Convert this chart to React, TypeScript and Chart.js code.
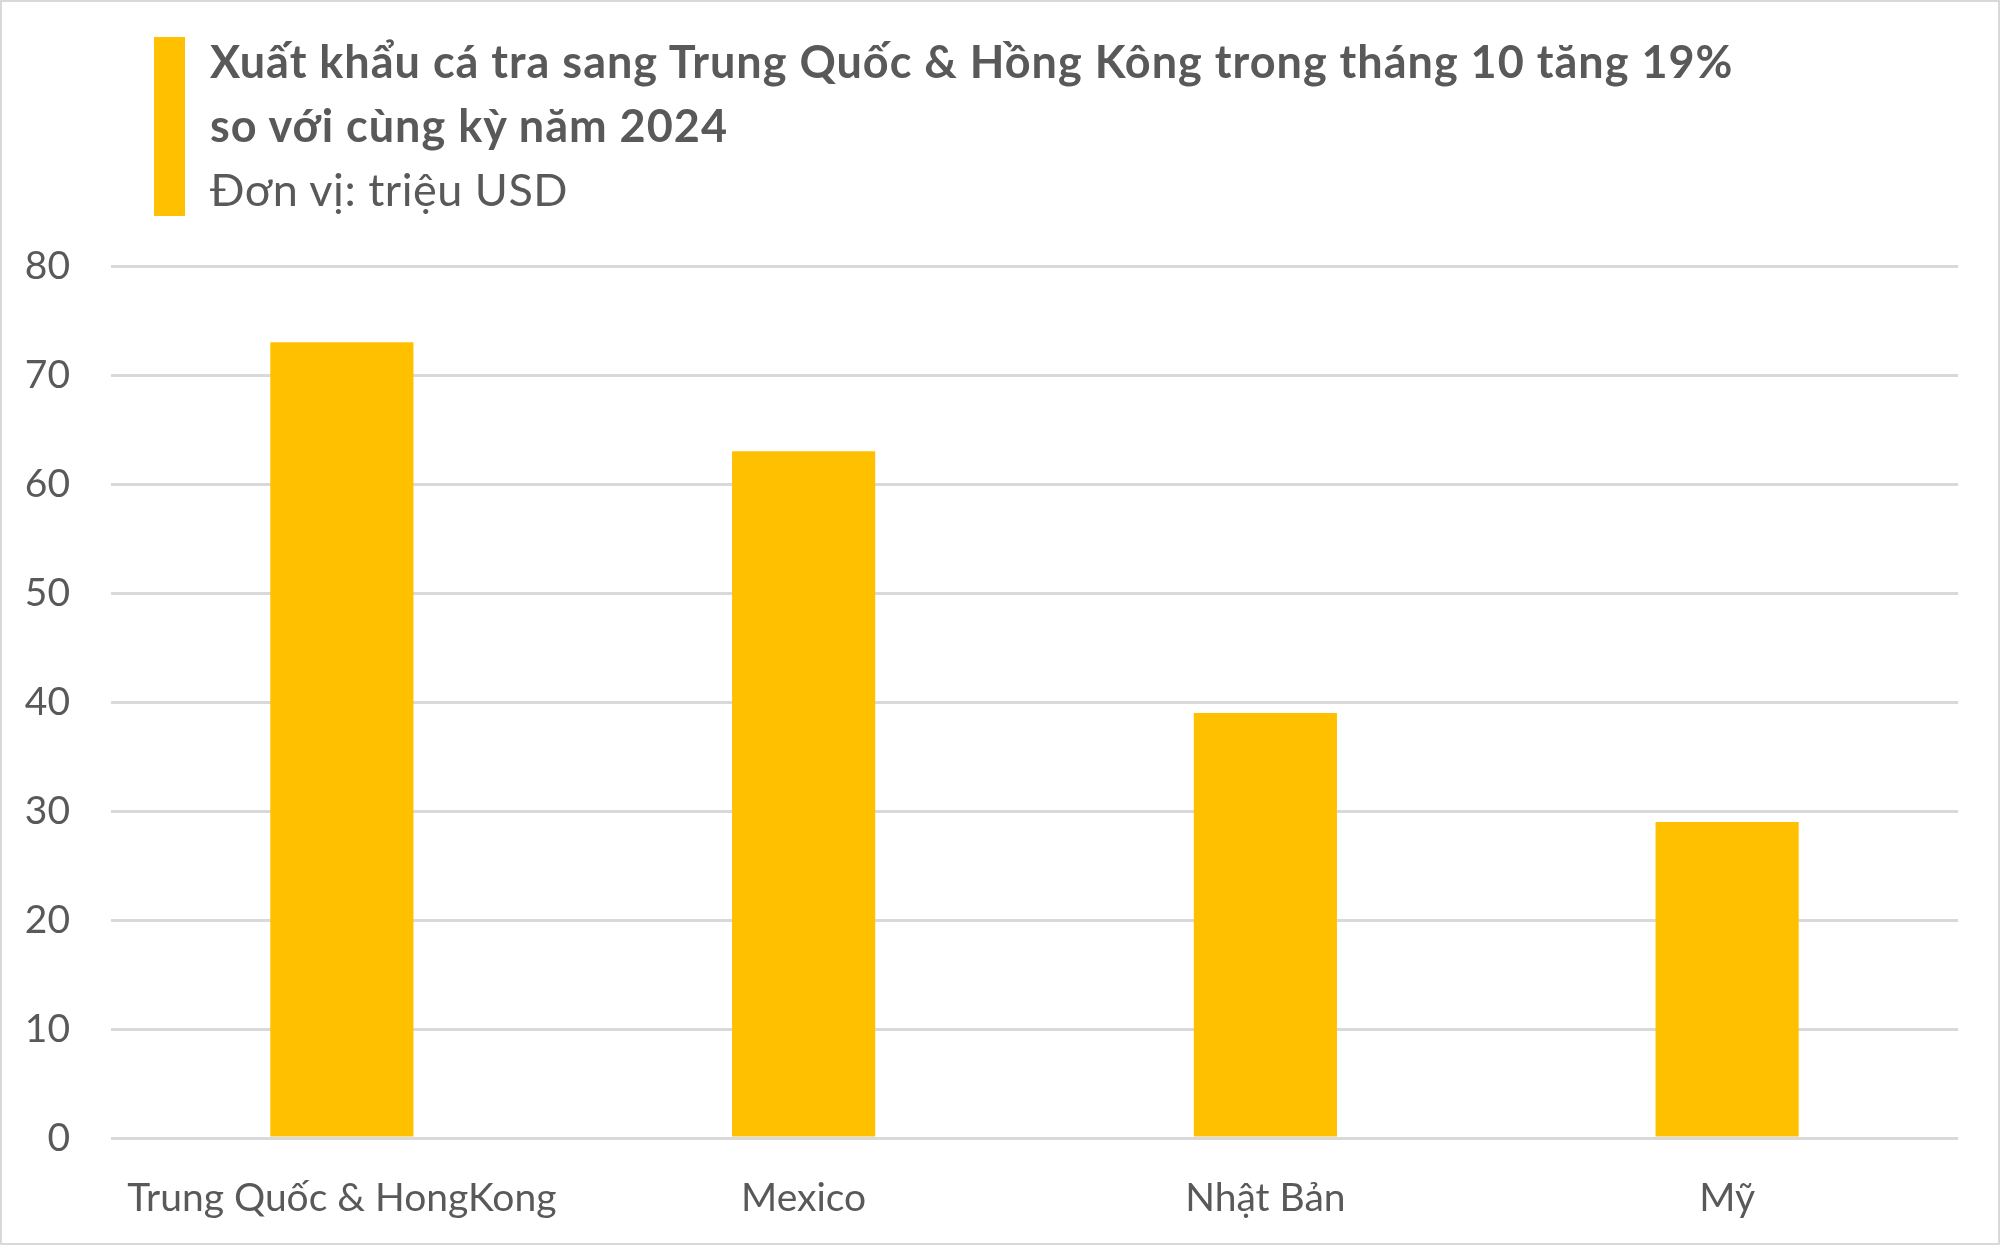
import React, { useEffect, useRef } from 'react';
import { Chart, registerables } from 'chart.js';

Chart.register(...registerables);

const categories = ['Trung Quốc & HongKong', 'Mexico', 'Nhật Bản', 'Mỹ'];
const exportValues = [73, 63, 39, 29];
const titleLines = [
  'Xuất khẩu cá tra sang Trung Quốc & Hồng Kông trong tháng 10 tăng 19%',
  'so với cùng kỳ năm 2024',
];
const unitLabel = 'Đơn vị: triệu USD';

const FONT = 'Lato, "Open Sans", "Noto Sans", sans-serif';
const TEXT = '#595959';

export default function App() {
  const chartRef = useRef<HTMLCanvasElement>(null);

  useEffect(() => {
    document.body.style.margin = '0';
    if (!chartRef.current) return;

    const chartInstance = new Chart(chartRef.current, {
      type: 'bar',
      data: {
        labels: categories,
        datasets: [
          {
            label: 'Xuất khẩu',
            data: exportValues,
            backgroundColor: '#FFC000',
            borderWidth: 0,
            categoryPercentage: 1,
            barPercentage: 0.31,
          },
        ],
      },
      options: {
        responsive: false,
        animation: false,
        layout: {
          padding: { top: 266, right: 42, bottom: 0, left: 0 },
        },
        plugins: {
          legend: { display: false },
          tooltip: { enabled: false },
        },
        scales: {
          x: {
            grid: { display: false, drawTicks: false },
            border: { display: false },
            ticks: {
              color: TEXT,
              padding: 37,
              maxRotation: 0,
              font: { family: FONT, size: 39 },
            },
            afterFit: (scale) => {
              scale.height = 107;
            },
          },
          y: {
            min: 0,
            max: 80,
            grid: { color: '#d9d9d9', lineWidth: 3, drawTicks: false },
            border: { display: false },
            ticks: {
              stepSize: 10,
              color: TEXT,
              padding: 41,
              font: { family: FONT, size: 39 },
            },
            afterFit: (scale) => {
              scale.width = 111;
            },
          },
        },
      },
    });

    return () => {
      chartInstance.destroy();
    };
  }, []);

  return (
    <div
      style={{
        position: 'relative',
        width: 2000,
        height: 1245,
        background: '#fff',
        overflow: 'hidden',
        fontFamily: FONT,
        color: TEXT,
      }}
    >
      <canvas
        ref={chartRef}
        width={2000}
        height={1245}
        style={{ position: 'absolute', left: 0, top: 0, width: 2000, height: 1245 }}
      />
      <div
        style={{
          position: 'absolute',
          left: 154,
          top: 37,
          width: 31,
          height: 179,
          background: '#FFC000',
        }}
      />
      <div
        style={{
          position: 'absolute',
          left: 210,
          top: 29,
          fontSize: 45,
          lineHeight: '64px',
          whiteSpace: 'nowrap',
        }}
      >
        {titleLines.map((line) => (
          <div key={line} style={{ fontWeight: 700, letterSpacing: 1 }}>
            {line}
          </div>
        ))}
        <div style={{ fontWeight: 400, letterSpacing: 0.5 }}>{unitLabel}</div>
      </div>
      <div
        style={{
          position: 'absolute',
          inset: 0,
          border: '2px solid #d9d9d9',
          pointerEvents: 'none',
        }}
      />
    </div>
  );
}
